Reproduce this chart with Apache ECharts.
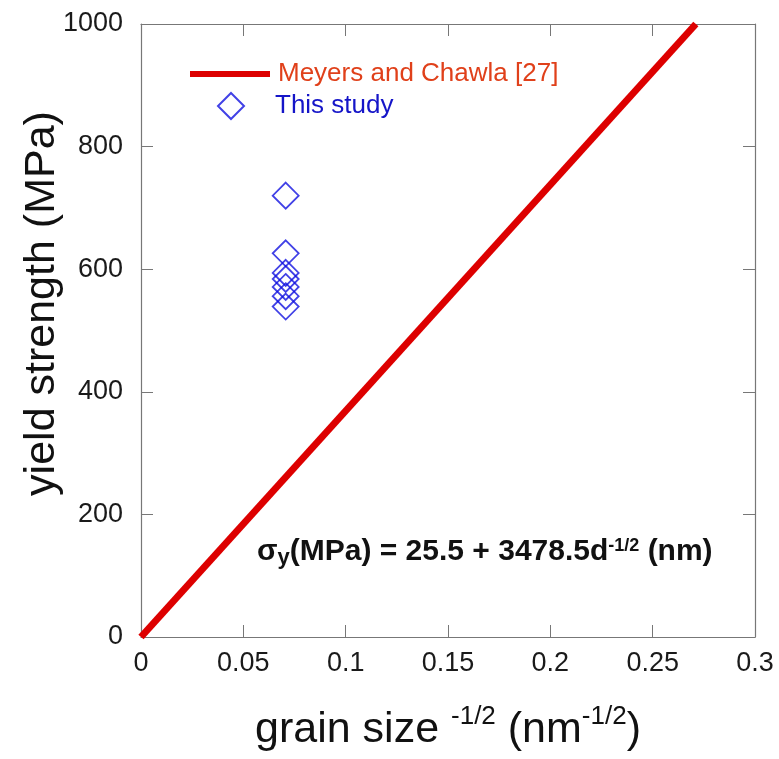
<!DOCTYPE html>
<html><head><meta charset="utf-8">
<script src="https://cdn.jsdelivr.net/npm/echarts@6/dist/echarts.min.js"></script>
<style>html,body{margin:0;padding:0;background:#fff}#c{width:779px;height:759px}</style>
</head><body><div id="c"></div>
<script>
// Data
const lineX = [0, 0.2711];
const lineY = [0, 1000];
const studyX = [0.0707, 0.0707, 0.0707, 0.0707, 0.0707, 0.0707, 0.0707];
const studyY = [720, 626, 594, 584, 571, 556, 539];
const xTicks = [0, 0.05, 0.1, 0.15, 0.2, 0.25, 0.3];
const yTicks = [0, 200, 400, 600, 800, 1000];
const seriesNames = ['Meyers and Chawla [27]', 'This study'];

const chart = echarts.init(document.getElementById('c'));
const FONT = 'Liberation Sans, Arial, sans-serif';
const axisCol = '#777';
const tickLbl = {fontSize: 27, color: '#1a1a1a', fontFamily: FONT};
const pick = (arr, v) => { const m = arr.find(t => Math.abs(t - v) < 1e-9); return m === undefined ? '' : String(m); };

const mirrorAxis = {
  axisLine: {onZero: false, lineStyle: {color: axisCol, width: 1.2}},
  axisTick: {inside: true, length: 12, lineStyle: {color: axisCol}},
  axisLabel: {show: false}, splitLine: {show: false}
};

const option = {
  animation: false,
  backgroundColor: '#fff',
  grid: {left: 141, right: 24, top: 24, bottom: 122, containLabel: false},
  legend: [
    {data: [{name: seriesNames[0], icon: 'rect', textStyle: {color: '#e0401a'}}],
     left: 185, top: 56, itemWidth: 80, itemHeight: 6, itemGap: 0,
     textStyle: {fontSize: 26, fontFamily: FONT, padding: [0, 0, 10, 3]}},
    {data: [{name: seriesNames[1], textStyle: {color: '#1515c8'}}],
     left: 212, top: 87, itemWidth: 26, itemHeight: 26,
     textStyle: {fontSize: 26, fontFamily: FONT, padding: [0, 0, 2, 26]}}
  ],
  xAxis: [
    {type: 'value', min: 0, max: 0.3, interval: 0.05, position: 'bottom',
     axisLine: {onZero: false, lineStyle: {color: axisCol, width: 1.2}},
     axisTick: {inside: true, length: 12, lineStyle: {color: axisCol}},
     splitLine: {show: false},
     axisLabel: Object.assign({margin: 13, formatter: v => pick(xTicks, v)}, tickLbl),
     name: '{a|grain size }{s|-1/2}{a| (nm}{s|-1/2}{a|)}',
     nameLocation: 'middle', nameGap: 67,
     nameTextStyle: {rich: {
       a: {fontSize: 43, fontFamily: FONT, color: '#111', verticalAlign: 'bottom', lineHeight: 48},
       s: {fontSize: 26, fontFamily: FONT, color: '#111', verticalAlign: 'top', padding: [0, 0, 10, 0], lineHeight: 48}
     }}},
    Object.assign({type: 'value', min: 0, max: 0.3, interval: 0.05, position: 'top'}, mirrorAxis)
  ],
  yAxis: [
    {type: 'value', min: 0, max: 1000, interval: 200, position: 'left',
     axisLine: {show: true, onZero: false, lineStyle: {color: axisCol, width: 1.2}},
     axisTick: {show: true, inside: true, length: 12, lineStyle: {color: axisCol}},
     splitLine: {show: false},
     axisLabel: Object.assign({margin: 18, formatter: v => pick(yTicks, v)}, tickLbl),
     name: 'yield strength (MPa)', nameLocation: 'middle', nameGap: 77, nameMoveOverlap: false,
     nameTextStyle: {fontSize: 43, fontFamily: FONT, color: '#111', padding: [0, 0, 0, 54]}},
    Object.assign({type: 'value', min: 0, max: 1000, interval: 200, position: 'right'},
      mirrorAxis, {axisLine: {show: true, onZero: false, lineStyle: {color: axisCol, width: 1.2}},
                   axisTick: {show: true, inside: true, length: 12, lineStyle: {color: axisCol}}})
  ],
  series: [
    {name: seriesNames[0], type: 'line', xAxisIndex: 0, yAxisIndex: 0,
     data: lineX.map((x, i) => [x, lineY[i]]), showSymbol: false, symbol: 'none',
     lineStyle: {color: '#dd0000', width: 7}, itemStyle: {color: '#dd0000'}, z: 2},
    {name: seriesNames[1], type: 'scatter', xAxisIndex: 0, yAxisIndex: 0,
     data: studyX.map((x, i) => [x, studyY[i]]), symbol: 'diamond', symbolSize: 26,
     itemStyle: {color: 'rgba(255,255,255,0)', borderColor: '#1212e0', borderWidth: 1.8}, z: 3}
  ],
  graphic: [
    {type: 'text', left: 257, top: 525, style: {
      text: '{b|σ}{sub|y}{b|(MPa) = 25.5 + 3478.5d}{sup|-1/2}{b| (nm)}',
      rich: {
        b: {fontSize: 30, fontWeight: 'bold', fontFamily: FONT, fill: '#111', verticalAlign: 'top', lineHeight: 32},
        sub: {fontSize: 22, fontWeight: 'bold', fontFamily: FONT, fill: '#111', verticalAlign: 'bottom', lineHeight: 32, padding: [22, 0, 0, 0]},
        sup: {fontSize: 18, fontWeight: 'bold', fontFamily: FONT, fill: '#111', verticalAlign: 'top', lineHeight: 32, padding: [0, 0, 0, 0]}
      }}}
  ]
};
chart.setOption(option);
</script></body></html>
